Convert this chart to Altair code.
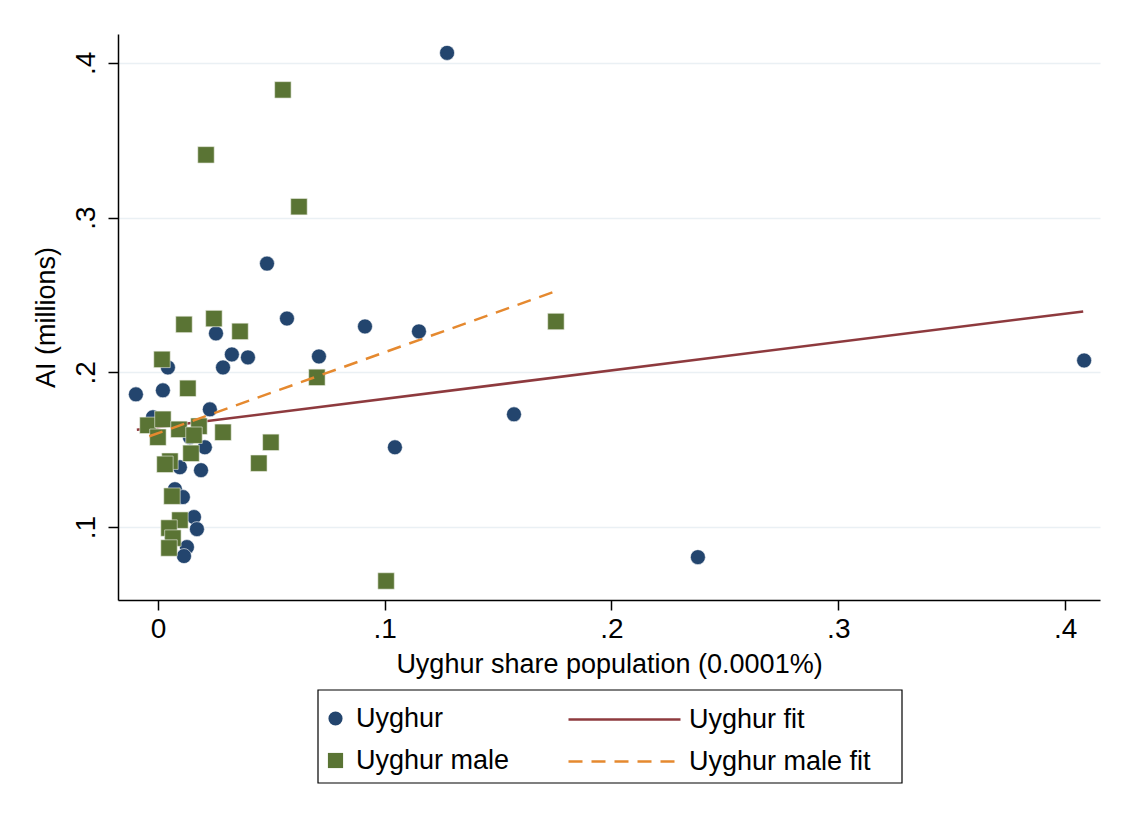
import altair as alt
import pandas as pd

# Uyghur (navy circles)
uy_x = [0.1275, 0.0481, 0.0569, 0.0256, 0.0913, 0.1151, 0.0326, 0.0397, 0.0710,
        0.0044, 0.0287, -0.0097, 0.0022, 0.0229, -0.0022, 0.0141, 0.0207, 0.1045,
        0.1570, 0.2381, 0.0097, 0.0190, 0.0075, 0.0110, 0.0159, 0.0172, 0.0128,
        0.0115, 0.0062, 0.4084]
uy_y = [0.4065, 0.2703, 0.2348, 0.2252, 0.2297, 0.2265, 0.2116, 0.2097, 0.2103,
        0.2032, 0.2032, 0.1858, 0.1884, 0.1761, 0.1710, 0.1581, 0.1516, 0.1516,
        0.1729, 0.0806, 0.1387, 0.1368, 0.1245, 0.1194, 0.1065, 0.0987, 0.0871,
        0.0813, 0.0935, 0.2077]

# Uyghur male (green squares)
um_x = [0.0551, 0.0212, 0.0622, 0.0115, 0.0247, 0.0362, 0.0701, 0.1755, 0.1006,
        0.0018, 0.0132, -0.0044, 0.0022, 0.0000, 0.0093, 0.0181, 0.0159, 0.0287,
        0.0146, 0.0053, 0.0031, 0.0445, 0.0498, 0.0062, 0.0097, 0.0049, 0.0066,
        0.0049]
um_y = [0.3826, 0.3406, 0.3071, 0.2310, 0.2348, 0.2265, 0.1968, 0.2329, 0.0652,
        0.2084, 0.1897, 0.1658, 0.1697, 0.1581, 0.1632, 0.1652, 0.1594, 0.1613,
        0.1477, 0.1426, 0.1406, 0.1413, 0.1548, 0.1200, 0.1045, 0.0994, 0.0929,
        0.0865]

# Linear fits (endpoints over each series' x range)
uy_fit_x = [-0.0093, 0.4080]
uy_fit_y = [0.1629, 0.2394]
um_fit_x = [-0.0038, 0.1755]
um_fit_y = [0.1587, 0.2525]

series = ["Uyghur", "Uyghur fit", "Uyghur male", "Uyghur male fit"]
colors = ["#23456E", "#8E3A3E", "#5A7434", "#E5892F"]

x_ticks = [0, 0.1, 0.2, 0.3, 0.4]
y_ticks = [0.1, 0.2, 0.3, 0.4]

pts_uy = pd.DataFrame({"x": uy_x, "y": uy_y, "series": series[0]})
fit_uy = pd.DataFrame({"x": uy_fit_x, "y": uy_fit_y, "series": series[1]})
pts_um = pd.DataFrame({"x": um_x, "y": um_y, "series": series[2]})
fit_um = pd.DataFrame({"x": um_fit_x, "y": um_fit_y, "series": series[3]})

FONT = "Liberation Sans"
LFS = 27

xscale = alt.Scale(domain=[-0.0176, 0.4154], nice=False, zero=False)
yscale = alt.Scale(domain=[0.0529, 0.4187], nice=False, zero=False)

xaxis = alt.Axis(
    values=x_ticks,
    labelExpr="datum.value == 0 ? '0' : replace(format(datum.value, '.1f'), '0.', '.')",
    title="Uyghur share population (0.0001%)",
    grid=False,
    tickSize=10,
    labelPadding=5,
    titlePadding=8,
)
yaxis = alt.Axis(
    values=y_ticks,
    labelExpr="replace(format(datum.value, '.1f'), '0.', '.')",
    title="AI (millions)",
    grid=True,
    tickSize=10,
    labelAngle=270,
    labelAlign="center",
    labelBaseline="bottom",
    labelPadding=8,
    titlePadding=12,
)


def legend_for(lx, ly, **kw):
    return alt.Legend(
        title=None,
        orient="none",
        legendX=lx,
        legendY=ly,
        labelFont=FONT,
        labelFontSize=LFS,
        labelColor="black",
        labelLimit=500,
        padding=0,
        **kw,
    )


def enc(base, idx, leg):
    return base.encode(
        x=alt.X("x:Q", scale=xscale, axis=xaxis),
        y=alt.Y("y:Q", scale=yscale, axis=yaxis),
        color=alt.Color("series:N",
                        scale=alt.Scale(domain=[series[idx]], range=[colors[idx]]),
                        legend=leg),
    )


l1 = enc(alt.Chart(pts_uy).mark_point(shape="circle", filled=True, size=225, opacity=1,
                                      stroke="white", strokeWidth=0.6),
         0, legend_for(204, 671, symbolType="circle", symbolSize=200,
                       symbolStrokeWidth=0, symbolOpacity=1, labelOffset=7))
l2 = enc(alt.Chart(fit_uy).mark_line(strokeWidth=2.5),
         1, legend_for(449, 628, symbolType="stroke", symbolSize=12544,
                       symbolStrokeWidth=2.5, labelOffset=7))
l3 = enc(alt.Chart(pts_um).mark_point(shape="square", filled=True, size=270, opacity=1,
                                      stroke="#eef0e8", strokeWidth=0.6),
         2, legend_for(204, 713, symbolType="square", symbolSize=230,
                       symbolStrokeWidth=0, symbolOpacity=1, labelOffset=7))
l4 = enc(alt.Chart(fit_um).mark_line(strokeWidth=2.5, strokeDash=[14, 9]),
         3, legend_for(449, 670, symbolType="stroke", symbolSize=12544,
                       symbolStrokeWidth=2.5, symbolDash=[14, 9], labelOffset=7))

# legend frame
frame = alt.Chart(pd.DataFrame({"k": [0]})).mark_rect(
    fill="white", stroke="black", strokeWidth=1.2
).encode(
    x=alt.value(200), x2=alt.value(784), y=alt.value(656), y2=alt.value(749)
)

chart = alt.layer(l1, l2, l3, l4, frame).resolve_scale(color="independent").properties(
    width=982,
    height=566,
    autosize=alt.AutoSizeParams(type="none"),
    padding={"left": 110, "top": 26, "right": 10, "bottom": 210},
    background="white",
).configure_view(strokeWidth=0).configure_axis(
    labelFont=FONT,
    titleFont=FONT,
    labelFontSize=28,
    titleFontSize=27,
    titleFontWeight="normal",
    labelColor="black",
    titleColor="black",
    domainColor="black",
    domainWidth=1.5,
    tickColor="black",
    tickWidth=1.5,
    gridColor="#EAF0F4",
    gridWidth=1.5,
)

chart.save("out.html", embed_options={"renderer": "svg", "actions": False})
